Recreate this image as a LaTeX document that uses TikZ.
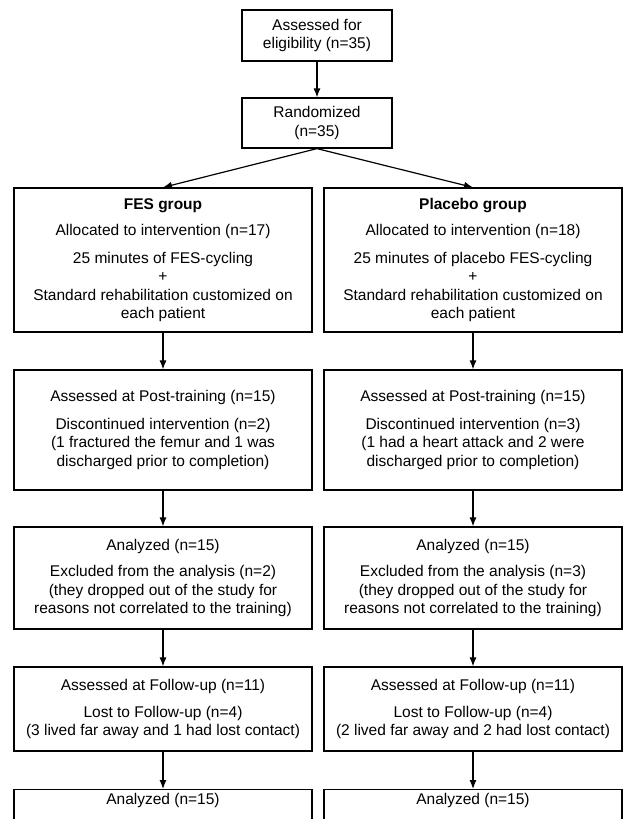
\documentclass[tikz,border=0pt]{standalone}
\usepackage{fontspec}
\setmainfont{Liberation Sans}
\usetikzlibrary{arrows.meta}

\begin{document}
\begin{tikzpicture}[x=1pt,y=-1pt,
    box/.style={draw, line width=1.2pt, inner sep=0pt, align=center,
                font=\fontsize{15.5}{18.5}\selectfont},
    wide/.style={box, minimum width=298pt},
    flow/.style={line width=1.2pt, -{Latex[length=9pt,width=7pt]}}]
                \clip (0,0) rectangle (624,819);
                \useasboundingbox (0,0) rectangle (624,819);
                % top
                \node[box, minimum width=150pt, minimum height=51pt] (elig) at (317,35.5)
                    {Assessed for\\eligibility (n=35)};
                \node[box, minimum width=150pt, minimum height=50pt] (rand) at (317,123)
                    {Randomized\\(n=35)};
                % allocation
                \node[wide, minimum height=144pt] (fes) at (163,260)
                    {\textbf{FES group}\\[8pt]Allocated to intervention (n=17)\\[9pt]25 minutes of FES-cycling\\+\\Standard rehabilitation customized on\\each patient};
                \node[wide, minimum height=144pt] (plac) at (473,260)
                    {\textbf{Placebo group}\\[8pt]Allocated to intervention (n=18)\\[9pt]25 minutes of placebo FES-cycling\\+\\Standard rehabilitation customized on\\each patient};
                % post-training
                \node[wide, minimum height=120pt] (postA) at (163,430)
                    {Assessed at Post-training (n=15)\\[9pt]Discontinued intervention (n=2)\\(1 fractured the femur and 1 was\\discharged prior to completion)};
                \node[wide, minimum height=120pt] (postB) at (473,430)
                    {Assessed at Post-training (n=15)\\[9pt]Discontinued intervention (n=3)\\(1 had a heart attack and 2 were\\discharged prior to completion)};
                % analysis
                \node[wide, minimum height=102pt] (anA) at (163,578)
                    {Analyzed (n=15)\\[8pt]Excluded from the analysis (n=2)\\(they dropped out of the study for\\reasons not correlated to the training)};
                \node[wide, minimum height=102pt] (anB) at (473,578)
                    {Analyzed (n=15)\\[8pt]Excluded from the analysis (n=3)\\(they dropped out of the study for\\reasons not correlated to the training)};
                % follow-up
                \node[wide, minimum height=84pt] (fuA) at (163,709)
                    {Assessed at Follow-up (n=11)\\[8pt]Lost to Follow-up (n=4)\\(3 lived far away and 1 had lost contact)};
                \node[wide, minimum height=84pt] (fuB) at (473,709)
                    {Assessed at Follow-up (n=11)\\[8pt]Lost to Follow-up (n=4)\\(2 lived far away and 2 had lost contact)};
                % final
                \node[wide, anchor=north, inner ysep=4pt, text depth=40pt] (finA) at (163,789)
                    {Analyzed (n=15)};
                \node[wide, anchor=north, inner ysep=4pt, text depth=40pt] (finB) at (473,789)
                    {Analyzed (n=15)};
                \draw[flow] (elig) -- (rand);
                \draw[flow] (rand.south) -- (fes.north);
                \draw[flow] (rand.south) -- (plac.north);
                \draw[flow] (fes) -- (postA);
                \draw[flow] (plac) -- (postB);
                \draw[flow] (postA) -- (anA);
                \draw[flow] (postB) -- (anB);
                \draw[flow] (anA) -- (fuA);
                \draw[flow] (anB) -- (fuB);
                \draw[flow] (fuA) -- (finA);
                \draw[flow] (fuB) -- (finB);
            \end{tikzpicture}
\end{document}
